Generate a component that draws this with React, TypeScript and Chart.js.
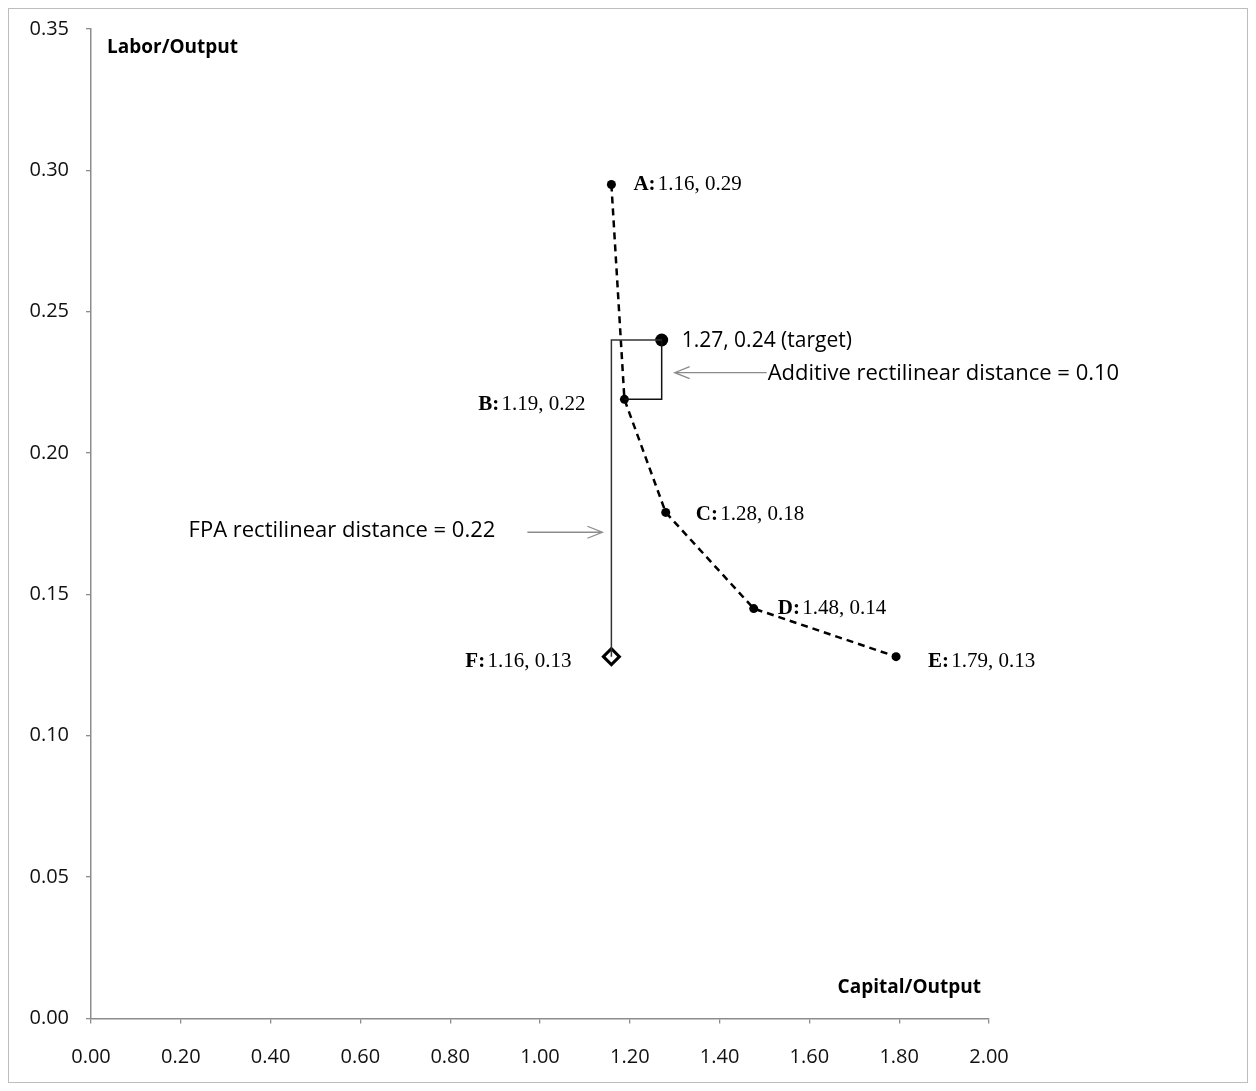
import React, { useEffect, useRef } from "react";
import { Chart, registerables } from "chart.js";

Chart.register(...registerables);

// ---- data ----
const frontierNames = ["A", "B", "C", "D", "E"];
const frontierX = [1.159, 1.188, 1.28, 1.476, 1.793];
const frontierY = [0.295, 0.219, 0.179, 0.145, 0.128];
const frontierLabels = ["1.16, 0.29", "1.19, 0.22", "1.28, 0.18", "1.48, 0.14", "1.79, 0.13"];

const targetX = 1.271;
const targetY = 0.24;
const targetLabel = "1.27, 0.24 (target)";

const fName = "F";
const fX = 1.159;
const fY = 0.128;
const fLabel = "1.16, 0.13";

const xTitle = "Capital/Output";
const yTitle = "Labor/Output";
const additiveText = "Additive rectilinear distance = 0.10";
const fpaText = "FPA rectilinear distance = 0.22";

const xMin = 0, xMax = 2.0, xStep = 0.2;
const yMin = 0, yMax = 0.35, yStep = 0.05;

const SANS = '"Open Sans", "Liberation Sans", sans-serif';
const SERIF = '"Liberation Serif", "DejaVu Serif", serif';

// label placement style (pixel offsets)
const labelStyle: Record<string, { dx: number; dy: number; align: "left" | "right" }> = {
  A: { dx: 22, dy: 0, align: "left" },
  B: { dx: -39, dy: 5, align: "right" },
  C: { dx: 30, dy: 2, align: "left" },
  D: { dx: 24, dy: 0, align: "left" },
  E: { dx: 32, dy: 5, align: "left" },
  F: { dx: -40, dy: 5, align: "right" },
};

function drawArrow(ctx: CanvasRenderingContext2D, x1: number, y: number, x2: number) {
  ctx.save();
  ctx.strokeStyle = "#8c8c8c";
  ctx.lineWidth = 1.3;
  ctx.beginPath();
  ctx.moveTo(x1, y);
  ctx.lineTo(x2, y);
  const dir = x2 > x1 ? 1 : -1;
  ctx.moveTo(x2 - dir * 15, y - 6);
  ctx.lineTo(x2, y);
  ctx.lineTo(x2 - dir * 15, y + 6);
  ctx.stroke();
  ctx.restore();
}

const annotationPlugin = {
  id: "annotations",
  afterDatasetsDraw(chart: any) {
    const ctx: CanvasRenderingContext2D = chart.ctx;
    const xs = chart.scales.x;
    const ys = chart.scales.y;
    const ca = chart.chartArea;
    ctx.save();
    ctx.textBaseline = "middle";
    ctx.fillStyle = "#000";

    const drawPointLabel = (name: string, text: string, px: number, py: number) => {
      const st = labelStyle[name];
      const boldPart = name + ": ";
      ctx.font = `bold 21px ${SERIF}`;
      const wb = ctx.measureText(boldPart).width - 3;
      ctx.font = `21px ${SERIF}`;
      const wn = ctx.measureText(text).width;
      let x = px + st.dx;
      if (st.align === "right") x = px + st.dx - (wb + wn);
      const y = py + st.dy;
      ctx.textAlign = "left";
      ctx.font = `bold 21px ${SERIF}`;
      ctx.fillText(boldPart, x, y);
      ctx.font = `21px ${SERIF}`;
      ctx.fillText(text, x + wb, y);
    };

    frontierNames.forEach((n, i) => {
      drawPointLabel(n, frontierLabels[i], xs.getPixelForValue(frontierX[i]), ys.getPixelForValue(frontierY[i]));
    });
    drawPointLabel(fName, fLabel, xs.getPixelForValue(fX), ys.getPixelForValue(fY));

    // target label
    const tx = xs.getPixelForValue(targetX);
    const ty = ys.getPixelForValue(targetY);
    ctx.font = `21px ${SANS}`;
    ctx.textAlign = "left";
    ctx.fillText(targetLabel, tx + 20, ty + 1);

    // additive annotation
    const addY = ys.getPixelForValue((targetY + frontierY[1]) / 2) + 3;
    drawArrow(ctx, tx + 105, addY, tx + 13);
    ctx.fillStyle = "#000";
    ctx.font = `22px ${SANS}`;
    ctx.textAlign = "left";
    ctx.fillText(additiveText, tx + 106, addY + 1);

    // FPA annotation
    const fx = xs.getPixelForValue(fX);
    const fpaY = ys.getPixelForValue(0.172);
    drawArrow(ctx, fx - 84, fpaY, fx - 9);
    ctx.fillStyle = "#000";
    ctx.font = `22px ${SANS}`;
    ctx.textAlign = "right";
    ctx.fillText(fpaText, fx - 116, fpaY - 1);

    // axis titles
    ctx.font = `bold 19px ${SANS}`;
    ctx.textAlign = "left";
    ctx.fillText(yTitle, ca.left + 16, ca.top + 19);
    ctx.textAlign = "right";
    ctx.fillText(xTitle, ca.right - 8, ca.bottom - 31);
    ctx.restore();
  },
};

export default function App() {
  const ref = useRef<HTMLCanvasElement | null>(null);
  useEffect(() => {
    if (!ref.current) return;
    const frontier = frontierX.map((x, i) => ({ x, y: frontierY[i] }));
    const fpaPath = [
      { x: fX, y: fY },
      { x: fX, y: targetY },
      { x: targetX, y: targetY },
    ];
    const addPath = [
      { x: targetX, y: targetY },
      { x: targetX, y: frontierY[1] },
      { x: frontierX[1], y: frontierY[1] },
    ];
    const chart = new Chart(ref.current, {
      type: "scatter",
      data: {
        datasets: [
          {
            data: fpaPath,
            showLine: true,
            borderColor: "#333",
            borderWidth: 1.5,
            pointRadius: 0,
            fill: false,
          },
          {
            data: addPath,
            showLine: true,
            borderColor: "#111",
            borderWidth: 1.5,
            pointRadius: 0,
            fill: false,
          },
          {
            data: frontier,
            showLine: true,
            borderColor: "#000",
            borderWidth: 2.5,
            borderDash: [7, 5],
            pointRadius: 4.5,
            pointBackgroundColor: "#000",
            pointBorderColor: "#000",
            pointBorderWidth: 0,
            fill: false,
          },
          {
            data: [{ x: targetX, y: targetY }],
            pointRadius: 6.5,
            pointBackgroundColor: "#000",
            pointBorderColor: "#000",
            pointBorderWidth: 0,
          },
          {
            data: [{ x: fX, y: fY }],
            pointStyle: "rectRot",
            pointRadius: 8,
            pointBackgroundColor: "#fff",
            pointBorderColor: "#000",
            pointBorderWidth: 3,
          },
        ],
      },
      options: {
        animation: false,
        responsive: true,
        maintainAspectRatio: false,
        layout: { padding: { left: 0, top: 20, right: 258, bottom: 0 } },
        plugins: { legend: { display: false }, tooltip: { enabled: false } },
        scales: {
          x: {
            type: "linear",
            min: xMin,
            max: xMax,
            ticks: {
              stepSize: xStep,
              padding: 22,
              color: "#111",
              font: { family: SANS, size: 20 },
              callback: (v: any) => Number(v).toFixed(2),
            },
            grid: {
              display: true,
              drawOnChartArea: false,
              drawTicks: true,
              tickLength: 5,
              color: "#8c8c8c",
              lineWidth: 1.3,
            },
            border: { display: true, color: "#8c8c8c", width: 1.5 },
            afterFit: (s: any) => {
              s.height = 63.5;
            },
          },
          y: {
            type: "linear",
            min: yMin,
            max: yMax,
            ticks: {
              stepSize: yStep,
              padding: 17,
              color: "#111",
              font: { family: SANS, size: 20 },
              callback: (v: any) => Number(v).toFixed(2),
            },
            grid: {
              display: true,
              drawOnChartArea: false,
              drawTicks: true,
              tickLength: 5,
              color: "#8c8c8c",
              lineWidth: 1.3,
            },
            border: { display: true, color: "#8c8c8c", width: 1.5 },
            afterFit: (s: any) => {
              s.width = 82;
              s.paddingTop = 0;
              s.paddingBottom = 0;
            },
          },
        },
      },
      plugins: [annotationPlugin],
    });
    return () => chart.destroy();
  }, []);

  return (
    <div
      style={{
        width: 1240,
        height: 1075,
        boxSizing: "border-box",
        border: "1px solid #bdbdbd",
        position: "relative",
        background: "#fff",
      }}
    >
      <canvas ref={ref} style={{ display: "block" }} />
    </div>
  );
}
